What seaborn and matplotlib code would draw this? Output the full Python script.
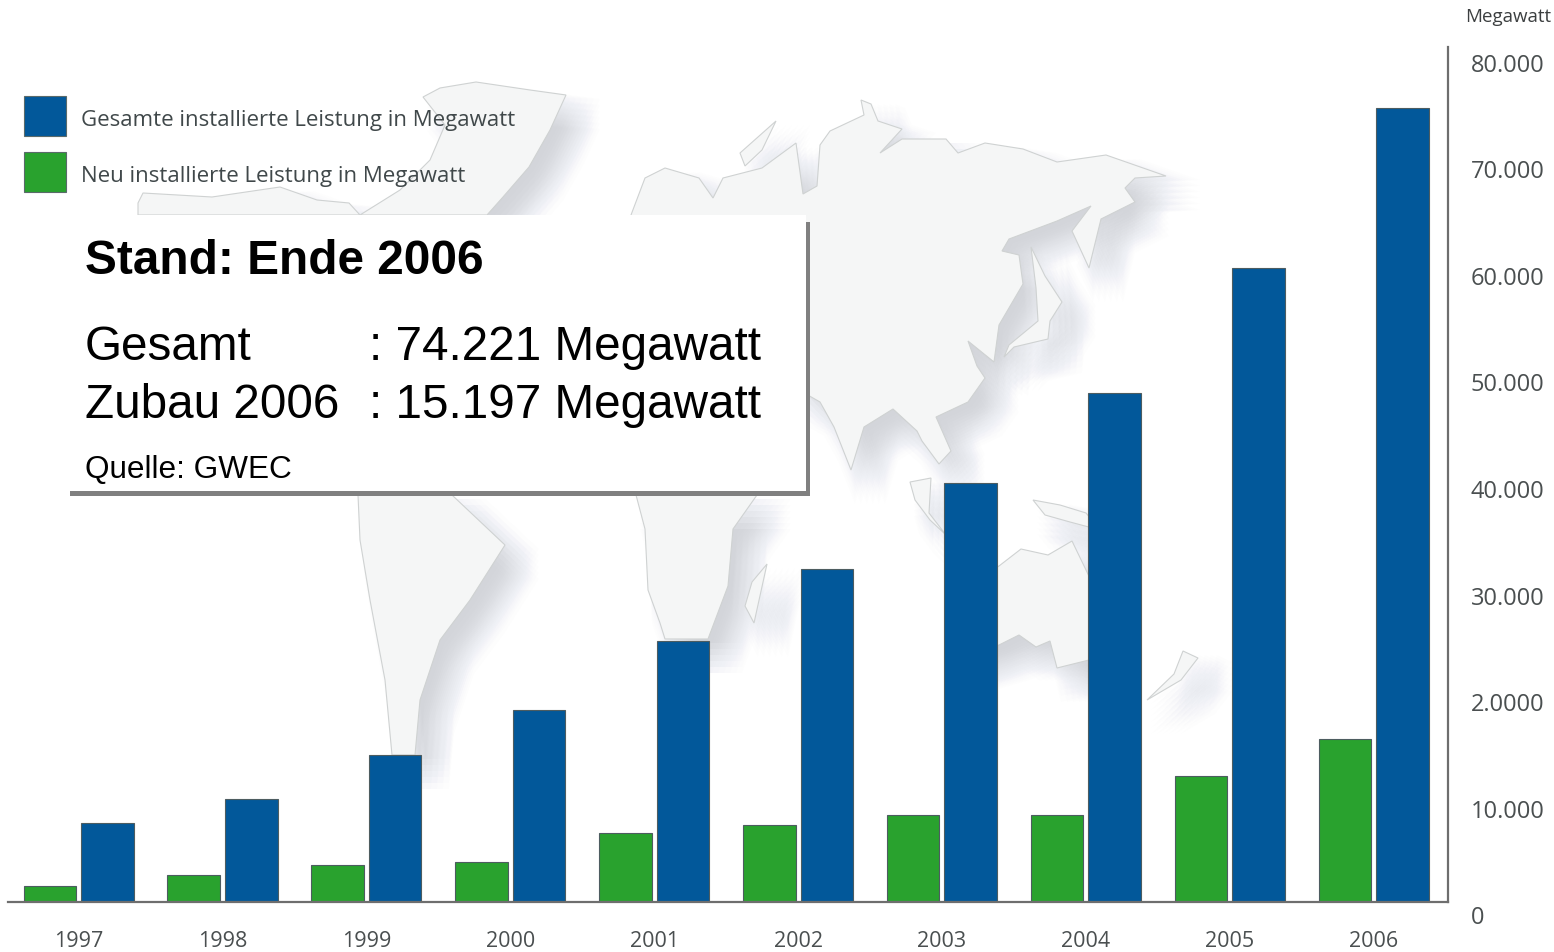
import pandas as pd
import matplotlib
matplotlib.use("Agg")
import matplotlib.pyplot as plt
import matplotlib.transforms as mtrans
from matplotlib.patches import Patch, Polygon, Rectangle
import seaborn as sns

# Data
years = ["1997", "1998", "1999", "2000", "2001", "2002", "2003", "2004", "2005", "2006"]
total_mw = [7400, 9660, 13700, 18000, 24400, 31200, 39300, 47650, 59400, 74400]
new_mw = [1500, 2440, 3380, 3750, 6470, 7220, 8070, 8160, 11730, 15200]
y_ticks = [0, 10000, 20000, 30000, 40000, 50000, 60000, 70000, 80000]
y_labels = ["0", "10.000", "2.0000", "30.000", "40.000", "50.000", "60.000", "70.000", "80.000"]
label_total = "Gesamte installierte Leistung in Megawatt"
label_new = "Neu installierte Leistung in Megawatt"

# Background map outlines, in picture pixels
land = [
    [(138, 215), (138, 203), (143, 193), (212, 197), (280, 187), (317, 200), (349, 203), (360, 215)],
    [(487, 215), (503, 197), (529, 167), (550, 130), (566, 95), (530, 90), (476, 82), (440, 88), (423, 97),
     (445, 125), (430, 160), (400, 190), (360, 215)],
    [(631, 215), (645, 178), (665, 168), (699, 178), (713, 198), (723, 178), (762, 168), (796, 143), (803, 194),
     (817, 186), (820, 145), (830, 131), (864, 115), (861, 100), (871, 104), (878, 121), (902, 129), (880, 153),
     (902, 139), (946, 139), (958, 153), (985, 143), (1023, 149), (1057, 162), (1106, 155), (1166, 176),
     (1135, 178), (1125, 188), (1135, 202), (1101, 219), (1089, 268), (1072, 231), (1091, 206), (1057, 221),
     (1009, 239), (1002, 251), (1019, 255), (1023, 284), (999, 325), (994, 362), (968, 341), (977, 366),
     (985, 378), (968, 402), (936, 417), (951, 451), (939, 464), (922, 441), (917, 431), (893, 409), (864, 427),
     (851, 470), (834, 427), (820, 402), (806, 394)],
    [(776, 121), (740, 153), (745, 166), (762, 150)],
    [(1031, 247), (1045, 276), (1062, 302), (1050, 321), (1048, 339), (1014, 347), (1004, 357), (1009, 345),
     (1038, 321), (1036, 288)],
    [(910, 482), (931, 478), (929, 513), (946, 535), (930, 520), (915, 500)],
    [(1033, 500), (1060, 505), (1086, 513), (1100, 530), (1070, 522), (1045, 515)],
    [(960, 590), (999, 566), (1021, 549), (1048, 555), (1072, 541), (1086, 570), (1105, 610), (1089, 660),
     (1057, 668), (1050, 641), (1036, 647), (1019, 635), (999, 645), (965, 655)],
    [(1183, 651), (1198, 658), (1181, 680), (1147, 700), (1174, 674)],
    [(767, 564), (754, 623), (745, 606), (752, 582)],
    [(636, 495), (645, 529), (648, 590), (660, 623), (665, 639), (708, 639), (728, 586), (733, 529), (757, 495)],
    [(358, 495), (360, 540), (370, 600), (385, 680), (392, 755), (415, 755), (420, 700), (440, 640), (470, 600),
     (505, 545), (452, 495)],
]

W, H = 1554, 952
fig = plt.figure(figsize=(W / 100, H / 100), dpi=100, facecolor="white")

sns.set_style("white")
plt.rcParams["font.family"] = ["Open Sans", "DejaVu Sans"]

# map layer, soft shadow from stacked offset copies
bg = fig.add_axes([0, 0, 1, 1], zorder=0)
bg.set_xlim(0, W)
bg.set_ylim(H, 0)
bg.axis("off")
for dx in range(4, 40, 6):
    for dy in range(4, 40, 6):
        for shape in land:
            shifted = [(x + dx, y + dy) for x, y in shape]
            bg.add_patch(Polygon(shifted, closed=True, fc="#9a9ea8", ec="none", alpha=0.012))
for shape in land:
    bg.add_patch(Polygon(shape, closed=True, fc="#f5f6f6", ec="#cfd2d2", lw=0.8))

# chart
df = pd.DataFrame({
    "Jahr": years * 2,
    "Megawatt": new_mw + total_mw,
    "Serie": [label_new] * len(years) + [label_total] * len(years),
})

ax = fig.add_axes([8 / W, (H - 901.5) / H, (1448 - 8) / W, (901.5 - 47) / H], zorder=1)
ax.patch.set_alpha(0)
sns.barplot(data=df, x="Jahr", y="Megawatt", hue="Serie", hue_order=[label_new, label_total],
            palette=["#29a22e", "#02589a"], saturation=1, width=0.8, gap=0.087, legend=False,
            edgecolor="#4d5c60", linewidth=0.8, ax=ax)
ax.set_xlim(-0.4906, 9.517)
ax.set_ylim(0, 80150)
ax.set_xlabel("")
ax.set_ylabel("")

for side in ["top", "left"]:
    ax.spines[side].set_visible(False)
for side in ["bottom", "right"]:
    ax.spines[side].set_color("#6e6e6e")
    ax.spines[side].set_linewidth(1.6)

ax.yaxis.tick_right()
ax.set_yticks(y_ticks)
ax.set_yticklabels(y_labels)
ax.tick_params(axis="y", length=0, pad=16.5, labelsize=17, labelcolor="#4a4f50")
ax.tick_params(axis="x", length=0, pad=21.5, labelsize=15.5, labelcolor="#4a4f50")

# the printed scale sits a bit below the real tick position
shift = mtrans.ScaledTranslation(0, -14 / 100, fig.dpi_scale_trans)
for lab in ax.get_yticklabels():
    lab.set_transform(lab.get_transform() + shift)

handles = [Patch(fc="#02589a", ec="#5a6a6a", lw=0.8, label=label_total),
           Patch(fc="#29a22e", ec="#5a6a6a", lw=0.8, label=label_new)]
leg = ax.legend(handles=handles, loc="upper left", bbox_to_anchor=(23.5 / W, (H - 96) / H),
                bbox_transform=fig.transFigure, frameon=False, fontsize=16, labelcolor="#40484a",
                handlelength=1.92, handleheight=2.42, handletextpad=0.68, labelspacing=0.68,
                borderpad=0, borderaxespad=0)
for t in leg.get_texts():
    t.set_y(-3)

fig.text(1551 / W, (H - 17) / H, "Megawatt", ha="right", va="center", fontsize=13.5, color="#3c3f40")

# info box on top
top = fig.add_axes([0, 0, 1, 1], zorder=2)
top.set_xlim(0, W)
top.set_ylim(H, 0)
top.axis("off")
top.add_patch(Rectangle((70, 222), 740, 274, fc="#808080", ec="none"))
top.add_patch(Rectangle((70, 215), 736, 276, fc="white", ec="none"))

arial = ["Liberation Sans", "DejaVu Sans"]
top.text(85, 261, "Stand: Ende 2006", family=arial, weight="bold", fontsize=34.4, va="center", color="black")
top.text(85, 348, "Gesamt", family=arial, fontsize=34.3, va="center", color="black")
top.text(369, 348, ": 74.221 Megawatt", family=arial, fontsize=34.3, va="center", color="black")
top.text(85, 406, "Zubau 2006", family=arial, fontsize=34.3, va="center", color="black")
top.text(369, 406, ": 15.197 Megawatt", family=arial, fontsize=34.3, va="center", color="black")
top.text(85, 470, "Quelle: GWEC", family=arial, fontsize=22.7, va="center", color="black")

plt.savefig("out.png", dpi=100)
